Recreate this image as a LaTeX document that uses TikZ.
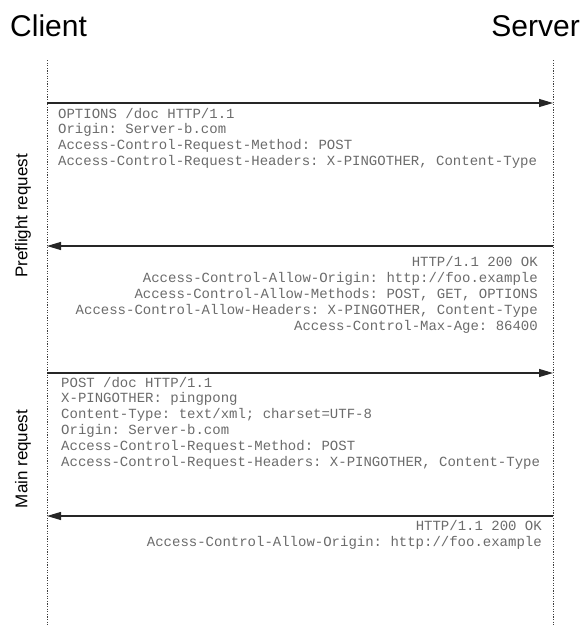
\documentclass[tikz,border=0pt]{standalone}
\usepackage{fontspec}
\setmainfont{Liberation Sans}
\setmonofont{Liberation Mono}
\usetikzlibrary{arrows.meta}

\tikzset{
  lifeline/.style={line width=0.8pt, draw=black!75, dash pattern=on 1.2pt off 1.4pt},
  msg/.style={line width=1.1pt, draw=black!85, -{Triangle[length=14pt,width=8pt]}},
  hdr/.style={inner sep=0pt, text=black!58, font=\ttfamily\fontsize{14}{15.8}\selectfont},
  party/.style={inner sep=0pt, font=\fontsize{30}{36}\selectfont},
  phase/.style={inner sep=0pt, rotate=90, font=\fontsize{17}{20}\selectfont},
}

\begin{document}
\begin{tikzpicture}[x=1pt,y=-1pt]
\useasboundingbox (0,0) rectangle (583,625);
% lifelines
\coordinate (cltop) at (47,60);
\coordinate (clbot) at (47,625);
\coordinate (srvtop) at (553,60);
\coordinate (srvbot) at (553,625);
\draw[lifeline] (cltop) -- (clbot);
\draw[lifeline] (srvtop) -- (srvbot);
\node[party, anchor=base west] (client) at (10,36) {Client};
\node[party, anchor=base east] (server) at (580,36) {Server};
% phases
\node[phase] (pre) at (23,216) {Preflight request};
\node[phase] (main) at (23,459) {Main request};
% messages
\coordinate (c1) at (47,103);
\coordinate (s1) at (553,103);
\coordinate (c2) at (47,246);
\coordinate (s2) at (553,246);
\coordinate (c3) at (47,373);
\coordinate (s3) at (553,373);
\coordinate (c4) at (47,516);
\coordinate (s4) at (553,516);
\draw[msg] (c1) -- (s1);
\draw[msg] (s2) -- (c2);
\draw[msg] (c3) -- (s3);
\draw[msg] (s4) -- (c4);
% header blocks (base = last line)
\node[hdr, anchor=base west, align=left] (req1) at (58,165.5) {OPTIONS /doc HTTP/1.1\\
Origin: Server-b.com\\
Access-Control-Request-Method: POST\\
Access-Control-Request-Headers: X-PINGOTHER, Content-Type};
\node[hdr, anchor=base east, align=right] (resp1) at (538,330) {HTTP/1.1 200 OK\\
Access-Control-Allow-Origin: http://foo.example\\
Access-Control-Allow-Methods: POST, GET, OPTIONS\\
Access-Control-Allow-Headers: X-PINGOTHER, Content-Type\\
Access-Control-Max-Age: 86400};
\node[hdr, anchor=base west, align=left] (req2) at (61,466) {POST /doc HTTP/1.1\\
X-PINGOTHER: pingpong\\
Content-Type: text/xml; charset=UTF-8\\
Origin: Server-b.com\\
Access-Control-Request-Method: POST\\
Access-Control-Request-Headers: X-PINGOTHER, Content-Type};
\node[hdr, anchor=base east, align=right] (resp2) at (542,546.5) {HTTP/1.1 200 OK\\
Access-Control-Allow-Origin: http://foo.example};
\end{tikzpicture}
\end{document}
